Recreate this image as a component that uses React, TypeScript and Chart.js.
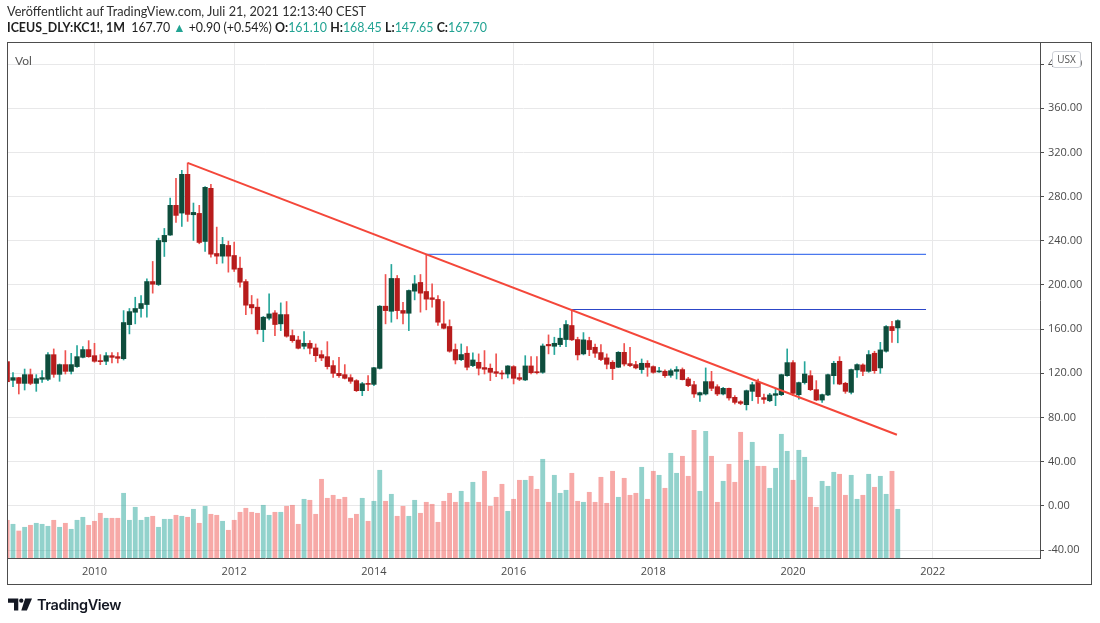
import React, { useEffect, useRef } from "react";
import { Chart, registerables } from "chart.js";

Chart.register(...registerables);

// ---------- data (monthly KC1! candles) ----------
const months = [
  "2008-10","2008-11","2008-12",
  "2009-01","2009-02","2009-03","2009-04","2009-05","2009-06","2009-07","2009-08","2009-09","2009-10","2009-11","2009-12",
  "2010-01","2010-02","2010-03","2010-04","2010-05","2010-06","2010-07","2010-08","2010-09","2010-10","2010-11","2010-12",
  "2011-01","2011-02","2011-03","2011-04","2011-05","2011-06","2011-07","2011-08","2011-09","2011-10","2011-11","2011-12",
  "2012-01","2012-02","2012-03","2012-04","2012-05","2012-06","2012-07","2012-08","2012-09","2012-10","2012-11","2012-12",
  "2013-01","2013-02","2013-03","2013-04","2013-05","2013-06","2013-07","2013-08","2013-09","2013-10","2013-11","2013-12",
  "2014-01","2014-02","2014-03","2014-04","2014-05","2014-06","2014-07","2014-08","2014-09","2014-10","2014-11","2014-12",
  "2015-01","2015-02","2015-03","2015-04","2015-05","2015-06","2015-07","2015-08","2015-09","2015-10","2015-11","2015-12",
  "2016-01","2016-02","2016-03","2016-04","2016-05","2016-06","2016-07","2016-08","2016-09","2016-10","2016-11","2016-12",
  "2017-01","2017-02","2017-03","2017-04","2017-05","2017-06","2017-07","2017-08","2017-09","2017-10","2017-11","2017-12",
  "2018-01","2018-02","2018-03","2018-04","2018-05","2018-06","2018-07","2018-08","2018-09","2018-10","2018-11","2018-12",
  "2019-01","2019-02","2019-03","2019-04","2019-05","2019-06","2019-07","2019-08","2019-09","2019-10","2019-11","2019-12",
  "2020-01","2020-02","2020-03","2020-04","2020-05","2020-06","2020-07","2020-08","2020-09","2020-10","2020-11","2020-12",
  "2021-01","2021-02","2021-03","2021-04","2021-05","2021-06","2021-07",
];

const opens = [
  130.6,113.7,116.1,
  110.9,118.8,110.9,114.6,114.6,136.9,119.1,127.9,121.8,126.1,134.5,141.5,
  136.0,131.5,130.9,136.0,135.1,133.3,164.1,175.3,178.7,182.3,203.1,200.4,
  239.1,245.2,272.1,265.1,300.2,263.6,264.8,239.4,287.5,228.5,226.1,235.8,
  226.7,215.2,203.1,182.3,179.9,159.6,169.9,174.7,164.8,173.2,154.2,150.2,
  144.5,147.2,143.0,136.9,135.1,127.0,120.0,118.8,116.1,113.4,104.3,110.9,
  110.0,124.5,180.8,176.2,205.9,176.9,174.4,194.4,202.3,194.1,188.4,186.9,
  164.8,162.4,141.5,132.4,138.2,127.0,130.0,125.2,124.6,121.5,120.3,119.4,
  126.1,116.1,114.0,126.7,121.5,120.9,146.2,144.5,146.0,150.6,163.3,150.6,
  137.6,149.7,143.6,138.8,134.0,130.0,125.5,139.0,128.8,127.9,123.4,129.1,
  126.1,121.3,121.9,118.2,121.8,123.4,114.9,109.7,100.4,101.3,112.5,107.9,
  101.3,106.4,98.3,94.3,91.6,103.7,111.9,98.0,95.2,100.1,100.7,117.9,
  129.7,100.7,111.6,117.9,105.2,95.8,100.4,117.9,130.9,111.0,102.8,123.1,
  127.6,121.8,138.2,124.9,140.0,162.4,161.1,
];

const highs = [
  131.5,120.6,116.4,
  123.9,123.9,118.8,122.4,138.8,142.1,128.5,140.6,138.1,145.1,144.2,149.6,
  147.2,136.9,138.8,138.8,138.8,176.8,178.7,188.9,190.5,205.6,221.3,242.4,
  251.2,278.7,296.6,303.8,310.5,274.2,272.1,289.0,291.1,252.4,243.1,239.7,
  238.8,225.2,205.0,190.5,187.4,171.5,191.9,176.8,183.8,185.0,159.3,153.6,
  157.8,149.6,146.6,140.6,148.7,131.5,134.5,127.9,118.8,114.3,111.8,117.9,
  125.4,181.4,209.5,218.6,208.6,184.4,195.5,208.6,209.5,227.7,201.0,190.5,
  185.0,168.4,146.6,146.6,144.2,138.5,137.6,140.6,128.5,137.6,122.4,127.0,
  127.0,120.0,136.0,135.1,135.1,146.6,154.8,152.7,160.8,167.8,177.5,152.7,
  156.9,152.7,146.6,146.0,137.6,131.5,139.7,147.0,143.6,130.9,133.0,131.5,
  126.8,125.5,123.1,123.9,126.1,124.9,116.4,112.8,103.0,124.9,121.8,109.7,
  107.3,106.7,99.8,95.2,104.9,111.9,114.9,101.3,101.9,105.8,119.3,142.1,
  131.5,112.0,130.6,122.4,113.4,101.2,119.3,130.9,135.1,111.9,123.9,128.5,
  128.5,140.6,140.0,148.1,163.3,167.2,168.45,
];

const lows = [
  104.3,107.9,101.3,
  104.9,109.7,103.7,111.8,113.4,116.4,112.8,119.4,119.4,125.4,133.9,134.5,
  130.0,127.9,127.9,129.4,129.4,132.1,155.7,164.8,170.8,170.8,192.6,199.5,
  225.8,244.9,256.7,253.0,257.6,240.3,237.3,230.4,225.2,219.2,219.8,211.6,
  212.2,198.0,173.2,173.8,155.7,148.7,168.4,154.2,158.7,152.7,148.1,142.1,
  142.1,137.6,130.6,131.5,123.9,116.4,116.4,114.9,110.9,103.5,99.8,104.3,
  108.8,123.9,164.8,166.3,169.3,164.8,158.7,186.5,175.4,177.5,179.9,163.3,
  160.2,139.1,128.5,131.5,123.1,126.1,118.5,119.4,113.4,117.0,114.9,115.8,
  110.4,113.4,113.4,119.4,119.4,120.0,137.6,137.0,144.2,144.2,149.7,132.1,
  136.7,136.0,134.5,131.5,124.0,114.3,125.2,126.7,126.1,124.0,120.0,117.3,
  120.0,120.9,116.4,116.4,114.9,114.0,107.9,98.3,94.6,100.4,104.3,99.8,
  100.4,95.8,92.2,91.6,86.8,95.2,92.8,92.8,94.3,90.7,99.8,117.3,
  99.8,96.7,110.3,104.3,95.2,93.7,99.8,110.3,109.7,101.9,101.3,116.4,
  117.9,120.9,120.0,120.0,139.1,148.1,147.65,
];

const closes = [
  112.4,116.1,110.9,
  118.8,110.9,115.2,116.1,136.9,119.1,127.9,121.8,127.9,135.1,141.5,135.1,
  130.9,130.6,136.0,134.5,133.6,166.0,175.9,178.7,183.2,203.1,200.7,240.3,
  244.9,272.1,263.0,300.2,263.9,265.7,238.5,288.4,227.9,226.1,236.7,226.1,
  214.3,202.5,181.7,179.3,159.6,170.8,173.8,164.2,173.2,153.6,149.6,142.7,
  147.2,142.7,136.0,133.9,126.1,120.0,117.9,115.5,112.8,104.3,110.6,110.0,
  125.1,180.8,176.8,205.9,176.8,174.4,195.0,201.0,192.6,187.2,186.9,166.3,
  160.8,140.0,132.1,137.0,125.5,132.1,124.6,123.7,120.9,120.0,119.4,126.7,
  115.5,114.6,126.7,120.6,120.6,144.8,144.9,147.2,151.8,164.2,150.3,136.7,
  150.3,141.5,138.2,132.5,128.2,124.3,139.0,128.4,127.0,124.9,129.1,125.5,
  120.9,121.9,117.9,122.4,123.4,114.3,108.8,101.3,102.5,112.5,106.4,101.3,
  106.4,97.7,93.7,92.8,104.3,109.7,98.9,96.4,100.4,101.6,118.8,129.7,
  101.9,111.6,119.4,105.2,95.8,100.7,118.8,129.1,110.3,103.7,123.4,127.9,
  121.8,137.0,122.4,141.2,162.4,158.7,167.7,
];

// volume, thousand contracts
const volumes = [
  264,236,189,
  215,229,243,236,222,264,215,243,201,264,285,229,
  257,313,278,278,278,453,264,355,264,285,292,215,
  271,271,299,292,285,341,243,362,306,299,257,194,
  264,320,348,320,313,369,299,320,320,362,369,236,
  411,404,306,551,418,439,411,425,278,306,418,257,
  397,614,397,446,292,362,292,404,313,390,376,250,
  397,453,390,467,390,530,390,607,362,425,516,327,
  411,544,544,572,481,691,390,579,453,474,593,397,
  390,460,390,565,383,607,425,558,439,453,635,411,
  607,579,488,733,593,712,572,894,467,887,712,390,
  537,656,530,880,684,810,642,642,488,628,866,747,
  544,754,705,425,355,537,502,600,586,439,579,411,
  439,586,495,572,446,607,341,
];

const priceTicks = [-40, 0, 40, 80, 120, 160, 200, 240, 280, 320, 360, 400];
const yearTicks = [2010, 2012, 2014, 2016, 2018, 2020, 2022];

// drawings: month index (months since Jan 2010) and price
const trendLine = [
  { m: 16, p: 310.5 },
  { m: 137.85, p: 64.4 },
];
const resistanceHigh = [
  { m: 57, p: 227.7 },
  { m: 142.85, p: 227.7 },
];
const resistanceLow = [
  { m: 82, p: 177.8 },
  { m: 142.85, p: 177.8 },
];

// ---------- helpers ----------
const monthIndex = (s: string) => {
  const [y, mo] = s.split("-").map(Number);
  return (y - 2010) * 12 + (mo - 1);
};

const X_MIN = -15.03;
const X_MAX = 162.43;
const Y_MIN = -47.2;
const Y_MAX = 420;
const VOL_MAX = 3612;

const GRID = "#e8e8e9";
const FRAME = "#4d4d4d";
const LABEL = "#4a4a4a";
const TEAL = "#26a69a";
const RED = "#ef5350";
const UP_BODY = "#0e4d3c";
const DOWN_BODY = "#b71c1c";
const FONT = "'Open Sans', 'Noto Sans', sans-serif";

const framePlugin = {
  id: "frame",
  afterDraw(chart: any) {
    const ctx = chart.ctx;
    ctx.save();
    ctx.strokeStyle = FRAME;
    ctx.lineWidth = 1;
    ctx.strokeRect(7.5, 42.5, 1084, 542);
    ctx.restore();
  },
};

function App() {
  const ref = useRef<HTMLCanvasElement | null>(null);

  useEffect(() => {
    if (!ref.current) return;
    const xs = months.map(monthIndex);
    const up = closes.map((c, i) => c >= opens[i]);

    const chart = new Chart(ref.current, {
      type: "bar",
      data: {
        datasets: [
          {
            type: "line",
            data: trendLine.map((d) => ({ x: d.m, y: d.p })),
            borderColor: "#f4473a",
            borderWidth: 2,
            pointRadius: 0,
            yAxisID: "y",
            order: 0,
          } as any,
          {
            type: "line",
            data: resistanceHigh.map((d) => ({ x: d.m, y: d.p })),
            borderColor: "#4a78ee",
            borderWidth: 1.2,
            pointRadius: 0,
            yAxisID: "y",
            order: 0,
          } as any,
          {
            type: "line",
            data: resistanceLow.map((d) => ({ x: d.m, y: d.p })),
            borderColor: "#2c46c8",
            borderWidth: 1.2,
            pointRadius: 0,
            yAxisID: "y",
            order: 0,
          } as any,
          {
            type: "bar",
            data: xs.map((x, i) => ({ x, y: [opens[i], closes[i]] })),
            backgroundColor: up.map((u) => (u ? UP_BODY : DOWN_BODY)),
            borderWidth: 0,
            barThickness: 4.6,
            minBarLength: 1,
            grouped: false,
            yAxisID: "y",
            order: 1,
          } as any,
          {
            type: "bar",
            data: xs.map((x, i) => ({ x, y: [lows[i], highs[i]] })),
            backgroundColor: up.map((u) => (u ? TEAL : RED)),
            borderWidth: 0,
            barThickness: 1,
            grouped: false,
            yAxisID: "y",
            order: 2,
          } as any,
          {
            type: "bar",
            data: xs.map((x, i) => ({ x, y: volumes[i] })),
            backgroundColor: up.map((u) =>
              u ? "rgba(38,166,154,0.5)" : "rgba(239,83,80,0.5)"
            ),
            borderWidth: 0,
            barThickness: 4.2,
            grouped: false,
            yAxisID: "yVol",
            order: 3,
          } as any,
        ],
      },
      options: {
        responsive: false,
        animation: false,
        events: [],
        layout: { padding: { left: 7, top: 42, right: 9, bottom: 38 } },
        plugins: {
          legend: { display: false },
          tooltip: { enabled: false },
          title: { display: false },
        },
        scales: {
          x: {
            type: "linear",
            min: X_MIN,
            max: X_MAX,
            offset: false,
            grid: { color: GRID, drawTicks: false, offset: false },
            border: { display: true, color: FRAME },
            ticks: {
              color: LABEL,
              font: { family: FONT, size: 11 },
              padding: 7,
              autoSkip: false,
              maxRotation: 0,
              callback: (v: any) => String(2010 + Number(v) / 12),
            },
            afterBuildTicks: (s: any) => {
              s.ticks = yearTicks.map((y) => ({ value: (y - 2010) * 12 }));
            },
            afterFit: (s: any) => {
              s.height = 27;
            },
          },
          y: {
            type: "linear",
            position: "right",
            min: Y_MIN,
            max: Y_MAX,
            grid: { color: GRID, tickColor: FRAME, tickLength: 4 },
            border: { display: true, color: FRAME },
            ticks: {
              color: LABEL,
              font: { family: FONT, size: 11 },
              padding: 4,
              autoSkip: false,
              callback: (v: any) => Number(v).toFixed(2),
            },
            afterBuildTicks: (s: any) => {
              s.ticks = priceTicks.map((v) => ({ value: v }));
            },
            afterFit: (s: any) => {
              s.width = 51;
            },
          },
          yVol: {
            type: "linear",
            display: false,
            min: 0,
            max: VOL_MAX,
          },
        },
      } as any,
      plugins: [framePlugin],
    });
    return () => chart.destroy();
  }, []);

  const teal = { color: "#22a393" };
  const hdrFont = "Lato, 'Open Sans', sans-serif";

  return (
    <div
      style={{
        position: "fixed",
        left: 0,
        top: 0,
        width: 1100,
        height: 623,
        background: "#fff",
        overflow: "hidden",
      }}
    >
      <canvas
        ref={ref}
        width={1100}
        height={623}
        style={{ position: "absolute", left: 0, top: 0, width: 1100, height: 623 }}
      />
      <div
        style={{
          position: "absolute",
          left: 7,
          top: 3,
          font: `12.7px ${hdrFont}`,
          color: "#2f2f2f",
          whiteSpace: "nowrap",
        }}
      >
        Veröffentlicht auf TradingView.com, Juli 21, 2021 12:13:40 CEST
      </div>
      <div
        style={{
          position: "absolute",
          left: 7,
          top: 20,
          font: `12.4px ${hdrFont}`,
          color: "#1e1e1e",
          whiteSpace: "nowrap",
        }}
      >
        <b>ICEUS_DLY:KC1!, 1M</b>&nbsp; 167.70 <span style={teal}>▲</span> +0.90 (+0.54%){" "}
        <b>O:</b>
        <span style={teal}>161.10</span> <b>H:</b>
        <span style={teal}>168.45</span> <b>L:</b>
        <span style={teal}>147.65</span> <b>C:</b>
        <span style={teal}>167.70</span>
      </div>
      <div
        style={{
          position: "absolute",
          left: 15,
          top: 53,
          font: `12px ${hdrFont}`,
          color: "#555",
        }}
      >
        Vol
      </div>
      <div
        style={{
          position: "absolute",
          left: 1052,
          top: 51,
          width: 27,
          height: 15,
          border: "1px solid #cfd2d8",
          borderRadius: 3,
          background: "#fff",
          font: `10px ${FONT}`,
          color: "#555",
          textAlign: "center",
          lineHeight: "15px",
        }}
      >
        USX
      </div>
      <div
        style={{
          position: "absolute",
          left: 8,
          top: 596,
          display: "flex",
          alignItems: "center",
          gap: 5,
        }}
      >
        <svg width="24" height="13" viewBox="0 0 28 14">
          <path d="M0 0 H12 V14 H7 V5 H0 Z" fill="#131722" />
          <circle cx="15.5" cy="2.5" r="2.5" fill="#131722" />
          <path d="M20 0 H28 L22 14 H15.5 Z" fill="#131722" />
        </svg>
        <span
          style={{
            font: `600 14.5px Inter, 'Open Sans', sans-serif`,
            color: "#131722",
            letterSpacing: -0.4,
          }}
        >
          TradingView
        </span>
      </div>
    </div>
  );
}

export default App;
